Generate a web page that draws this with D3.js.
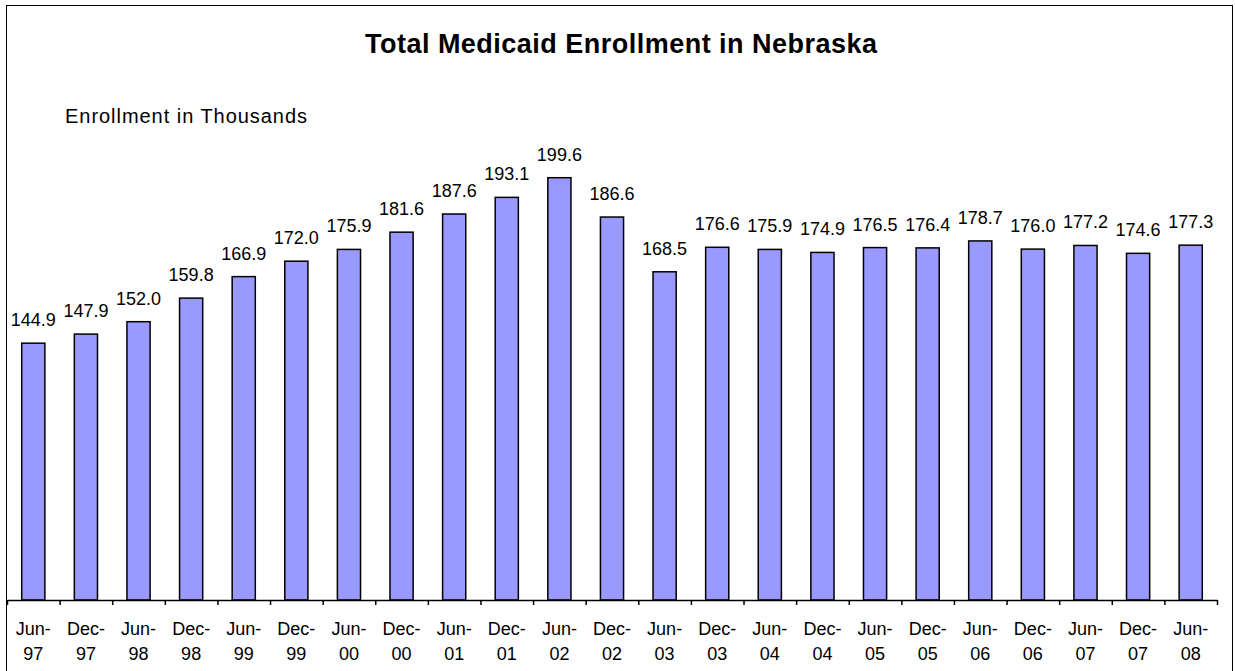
<!DOCTYPE html>
<html>
<head>
<meta charset="utf-8">
<script src="https://cdn.jsdelivr.net/npm/d3@7/dist/d3.min.js"></script>
<style>
  html, body { margin: 0; padding: 0; background: #fff; }
  svg { display: block; font-family: "Liberation Sans", Arial, sans-serif; }
</style>
</head>
<body>
<svg id="chart" width="1235" height="671"></svg>
<script>
// Semi-annual enrollment snapshots, in thousands
const periods = ["Jun-97","Dec-97","Jun-98","Dec-98","Jun-99","Dec-99","Jun-00","Dec-00",
  "Jun-01","Dec-01","Jun-02","Dec-02","Jun-03","Dec-03","Jun-04","Dec-04","Jun-05","Dec-05",
  "Jun-06","Dec-06","Jun-07","Dec-07","Jun-08"];
const enrollment = [144.9,147.9,152.0,159.8,166.9,172.0,175.9,181.6,187.6,193.1,199.6,186.6,
  168.5,176.6,175.9,174.9,176.5,176.4,178.7,176.0,177.2,174.6,177.3];
const yDomain = [60, 220];
const titleText = "Total Medicaid Enrollment in Nebraska";
const unitText = "Enrollment in Thousands";

const svg = d3.select("#chart");
const W = 1235, H = 671;
const plot = { left: 7, right: 1217, top: 116, bottom: 600 };

// outer frame
svg.append("rect")
  .attr("x", 6.5).attr("y", 5.5)
  .attr("width", 1226).attr("height", H + 10)
  .attr("fill", "#fff").attr("stroke", "#000").attr("stroke-width", 1);

svg.append("text")
  .attr("x", 621).attr("y", 53)
  .attr("text-anchor", "middle")
  .attr("font-size", 27).attr("font-weight", "bold")
  .attr("textLength", 512).attr("lengthAdjust", "spacing")
  .text(titleText);

svg.append("text")
  .attr("x", 65).attr("y", 123)
  .attr("font-size", 20)
  .attr("textLength", 242).attr("lengthAdjust", "spacing")
  .text(unitText);

const x = d3.scaleBand()
  .domain(periods)
  .range([plot.left, plot.right])
  .paddingInner(0.56)
  .paddingOuter(0.28);

const y = d3.scaleLinear().domain(yDomain).range([plot.bottom, plot.top]);

// bars
svg.append("g").selectAll("rect")
  .data(enrollment)
  .join("rect")
  .attr("x", (d, i) => x(periods[i]))
  .attr("y", d => y(d))
  .attr("width", x.bandwidth())
  .attr("height", d => y(yDomain[0]) - y(d))
  .attr("fill", "#9999ff")
  .attr("stroke", "#000")
  .attr("stroke-width", 1.5);

// value labels
svg.append("g").selectAll("text")
  .data(enrollment)
  .join("text")
  .attr("x", (d, i) => x(periods[i]) + x.bandwidth() / 2)
  .attr("y", d => y(d) - 17)
  .attr("text-anchor", "middle")
  .attr("font-size", 18)
  .text(d => d.toFixed(1));

// category axis: line + boundary ticks
const edges = d3.scaleLinear().domain([0, periods.length]).range([plot.left, plot.right]);
const tickAxis = svg.append("g")
  .attr("transform", `translate(0,${plot.bottom})`)
  .call(d3.axisBottom(edges).tickValues(d3.range(periods.length + 1)).tickFormat("").tickSize(5).tickSizeOuter(0));
tickAxis.select(".domain").attr("stroke", "#000").attr("stroke-width", 1.5);
tickAxis.selectAll(".tick line").attr("stroke", "#000").attr("stroke-width", 1.5);

// two-line category labels
const labelAxis = svg.append("g")
  .attr("transform", `translate(0,${plot.bottom})`)
  .call(d3.axisBottom(x).tickSize(0).tickFormat(""));
labelAxis.select(".domain").remove();
labelAxis.selectAll(".tick").each(function(p) {
  const parts = p.split("-");
  const t = d3.select(this).append("text")
    .attr("fill", "#000")
    .attr("font-size", 18)
    .attr("text-anchor", "middle")
    .attr("font-family", "Liberation Sans, Arial, sans-serif");
  t.append("tspan").attr("x", 0).attr("y", 35).text(parts[0] + "-");
  t.append("tspan").attr("x", 0).attr("y", 60).text(parts[1]);
});
</script>
</body>
</html>
